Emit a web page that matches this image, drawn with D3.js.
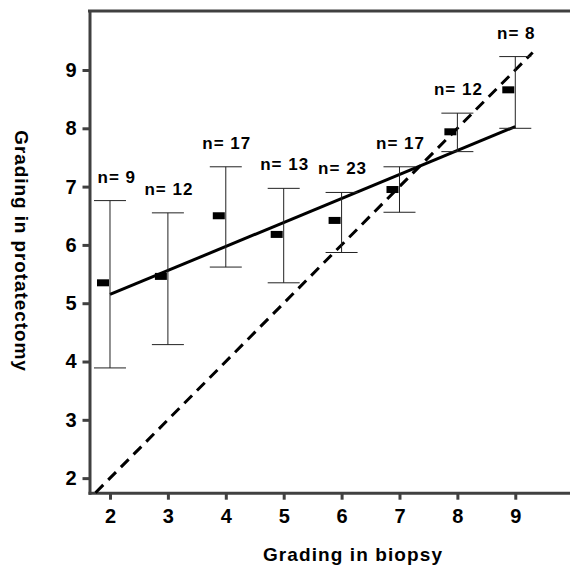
<!DOCTYPE html>
<html>
<head>
<meta charset="utf-8">
<script src="https://cdn.jsdelivr.net/npm/d3@7"></script>
<style>
  body { margin: 0; background: #fff; }
  svg { display: block; font-family: "Liberation Sans", Arial, sans-serif; }
</style>
</head>
<body>
<script>
// grading in biopsy vs grading in prostatectomy
const grades = [2, 3, 4, 5, 6, 7, 8, 9];
const means = [5.35, 5.46, 6.50, 6.18, 6.42, 6.95, 7.94, 8.66];
const upper = [6.76, 6.55, 7.34, 6.97, 6.90, 7.34, 8.26, 9.23];
const lower = [3.89, 4.29, 5.62, 5.35, 5.87, 6.56, 7.60, 8.00];
const counts = [9, 12, 17, 13, 23, 17, 12, 8];
const fitX = [2, 9];
const fitY = [5.15, 8.03];
const identity = [1.75, 9.3];
const xTicks = [2, 3, 4, 5, 6, 7, 8, 9];
const yTicks = [2, 3, 4, 5, 6, 7, 8, 9];

const svgW = 570, svgH = 565;
const plotL = 89.5, plotR = 570, plotT = 11, plotB = 492.7;
const axisColor = '#404040';

const svg = d3.select('body').append('svg')
  .attr('width', svgW)
  .attr('height', svgH);

const x = d3.scaleLinear().domain([1.646, 9.945]).range([plotL, plotR]);
const y = d3.scaleLinear().domain([1.75, 10.012]).range([plotB, plotT]);

// top frame line
svg.append('line')
  .attr('x1', plotL - 1.5).attr('x2', plotR)
  .attr('y1', plotT).attr('y2', plotT)
  .attr('stroke', axisColor).attr('stroke-width', 3);

// axes
const xAxis = svg.append('g')
  .attr('transform', `translate(0,${plotB})`)
  .call(d3.axisBottom(x).tickValues(xTicks).tickSize(7).tickSizeOuter(0).tickPadding(8));
const yAxis = svg.append('g')
  .attr('transform', `translate(${plotL},0)`)
  .call(d3.axisLeft(y).tickValues(yTicks).tickSize(7).tickSizeOuter(0).tickPadding(6));

[xAxis, yAxis].forEach(g => {
  g.select('.domain').attr('stroke', axisColor).attr('stroke-width', 3).attr('stroke-linecap', 'square');
  g.selectAll('.tick line').attr('stroke', axisColor).attr('stroke-width', 3);
  g.selectAll('.tick text')
    .attr('fill', '#000')
    .style('font-size', '20px')
    .style('font-weight', 'bold');
});
xAxis.selectAll('.tick text').attr('dy', '0.75em');

// identity line
svg.append('line')
  .attr('x1', x(identity[0])).attr('y1', y(identity[0]))
  .attr('x2', x(identity[1])).attr('y2', y(identity[1]))
  .attr('stroke', '#000').attr('stroke-width', 3)
  .attr('stroke-dasharray', '11,7');

// regression line
svg.append('line')
  .attr('x1', x(fitX[0])).attr('y1', y(fitY[0]))
  .attr('x2', x(fitX[1])).attr('y2', y(fitY[1]))
  .attr('stroke', '#000').attr('stroke-width', 3);

// error bars
const bars = svg.append('g').selectAll('g')
  .data(grades)
  .join('g');

bars.append('line')
  .attr('x1', d => x(d)).attr('x2', d => x(d))
  .attr('y1', (d, i) => y(upper[i])).attr('y2', (d, i) => y(lower[i]))
  .attr('stroke', '#222').attr('stroke-width', 1);
bars.append('line')
  .attr('x1', d => x(d) - 16).attr('x2', d => x(d) + 16)
  .attr('y1', (d, i) => y(upper[i])).attr('y2', (d, i) => y(upper[i]))
  .attr('stroke', '#222').attr('stroke-width', 1);
bars.append('line')
  .attr('x1', d => x(d) - 16).attr('x2', d => x(d) + 16)
  .attr('y1', (d, i) => y(lower[i])).attr('y2', (d, i) => y(lower[i]))
  .attr('stroke', '#222').attr('stroke-width', 1);

// mean markers
bars.append('rect')
  .attr('x', d => x(d) - 13)
  .attr('y', (d, i) => y(means[i]) - 3.5)
  .attr('width', 12)
  .attr('height', 7)
  .attr('fill', '#000');

// n labels, kept clear of the left axis
bars.append('text')
  .attr('y', (d, i) => y(upper[i]) - 18)
  .attr('text-anchor', 'middle')
  .style('font-size', '17px')
  .style('font-weight', 'bold')
  .style('letter-spacing', '1px')
  .text((d, i) => `n= ${counts[i]}`)
  .attr('x', function(d) {
    const w = this.getComputedTextLength();
    return Math.max(x(d) + 1, plotL + 8 + w / 2);
  });

// axis titles
svg.append('text')
  .attr('x', 353)
  .attr('y', 561)
  .attr('text-anchor', 'middle')
  .style('font-size', '19px')
  .style('font-weight', 'bold')
  .style('letter-spacing', '1.1px')
  .text('Grading in biopsy');

svg.append('text')
  .attr('transform', `translate(15,251) rotate(90)`)
  .attr('text-anchor', 'middle')
  .style('font-size', '19px')
  .style('font-weight', 'bold')
  .style('letter-spacing', '0.9px')
  .text('Grading in protatectomy');
</script>
</body>
</html>
